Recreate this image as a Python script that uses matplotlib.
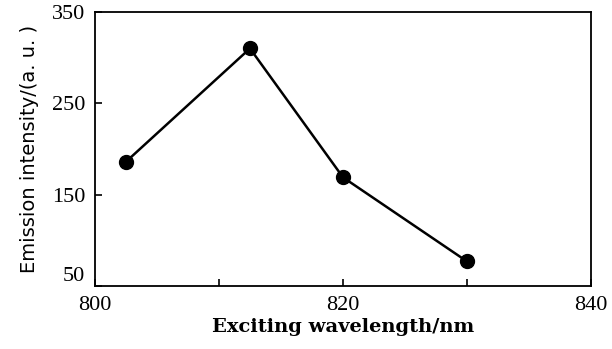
import matplotlib
matplotlib.use("Agg")
import matplotlib.pyplot as plt

wavelength = [802.5, 812.5, 820, 830]
intensity = [186, 310, 169, 77]
xticks = [800, 810, 820, 830, 840]
xticklabels = ["800", "", "820", "", "840"]
yticks = [50, 150, 250, 350]

plt.rcParams["font.family"] = ["Liberation Serif", "DejaVu Serif"]

fig = plt.figure(figsize=(6.12, 3.49), dpi=100)
ax = fig.add_axes([0.155, 0.18, 0.811, 0.786])

ax.plot(wavelength, intensity, color="black", lw=1.8, marker="o", ms=10,
        markerfacecolor="black", markeredgecolor="black")

ax.set_xlim(800, 840)
ax.set_ylim(50, 350)
ax.set_xticks(xticks)
ax.set_xticklabels(xticklabels)
ax.set_yticks(yticks)
ax.tick_params(direction="in", length=5, width=1.2, labelsize=16)
ax.tick_params(axis="y", pad=7)
ax.tick_params(axis="x", pad=7)
for s in ax.spines.values():
    s.set_linewidth(1.3)
# bottom y label sits a little above the corner, as in the original
ax.get_yticklabels()[0].set_verticalalignment("bottom")

ax.set_xlabel("Exciting wavelength/nm", fontsize=14, fontweight="bold",
              family="DejaVu Serif", labelpad=2)
ax.set_ylabel("Emission intensity/(a. u. )", fontsize=14,
              family="DejaVu Sans", labelpad=9)

fig.savefig("out.png", dpi=100)
